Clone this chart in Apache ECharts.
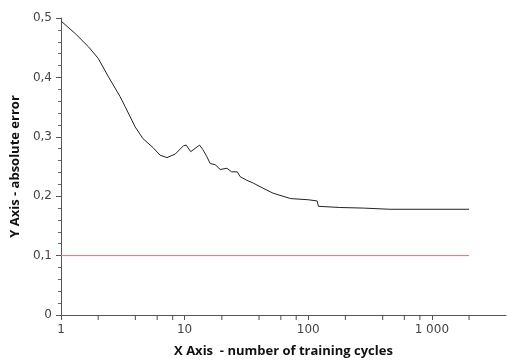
<!DOCTYPE html>
<html>
<head>
<meta charset="utf-8">
<script src="https://cdn.jsdelivr.net/npm/echarts@6/dist/echarts.min.js"></script>
<style>
  html, body { margin: 0; padding: 0; background: #fff; }
  #chart { width: 507px; height: 360px; }
</style>
</head>
<body>
<div id="chart"></div>
<script>
// Training curve: absolute error versus number of training cycles (log x axis)
var cycles = [1, 1.3, 1.66, 2.0, 2.42, 3.0, 3.3, 3.97, 4.6, 5.6, 6.33, 7.2, 8.4, 9.8, 10.3,
  11.2, 13.2, 14.0, 15.1, 16.1, 17.7, 19.4, 22, 24, 26.7, 28.1, 31.7, 36, 40.8, 52, 72,
  100, 118, 121, 180, 280, 460, 2000];
var absError = [0.495, 0.474, 0.452, 0.432, 0.401, 0.368, 0.351, 0.317, 0.297, 0.281, 0.269,
  0.265, 0.271, 0.285, 0.286, 0.275, 0.286, 0.279, 0.267, 0.255, 0.253, 0.245, 0.247, 0.241,
  0.241, 0.233, 0.227, 0.222, 0.216, 0.205, 0.196, 0.194, 0.192, 0.183, 0.181, 0.180, 0.178,
  0.178];

// Target error level
var targetCycles = [1, 2000];
var targetError = [0.1, 0.1];

// Minor tick positions on the logarithmic x axis
var minorTickCycles = [2, 4, 6, 8, 20, 40, 60, 80, 200, 400, 600, 800, 2000];

var xMin = 1, xMax = 3981;
var yTicks = [0, 0.1, 0.2, 0.3, 0.4, 0.5];

function zip(xs, ys) {
  return xs.map(function (x, i) { return [x, ys[i]]; });
}

function fmtThousands(v) {
  return String(Math.round(v)).replace(/\B(?=(\d{3})+(?!\d))/g, ' ');
}

var chart = echarts.init(document.getElementById('chart'), null, { renderer: 'canvas' });

var labelFont = { fontFamily: 'DejaVu Sans', fontSize: 12, color: '#444' };
var nameFont = { fontFamily: 'Open Sans', fontSize: 13, fontWeight: 'bold', color: '#111' };

chart.setOption({
  animation: false,
  backgroundColor: '#fff',
  grid: { left: 61, right: 1, top: 18, bottom: 45, containLabel: false, outerBoundsMode: 'none' },
  xAxis: {
    type: 'log',
    logBase: 10,
    min: xMin,
    max: xMax,
    name: 'X Axis  - number of training cycles',
    nameLocation: 'middle',
    nameGap: 30,
    nameTextStyle: nameFont,
    axisLine: { show: true, lineStyle: { color: '#555', width: 1 } },
    axisTick: { show: true, interval: 0, inside: false, length: 5, lineStyle: { color: '#555', width: 1 } },
    minorTick: { show: false },
    splitLine: { show: false },
    axisLabel: Object.assign({
      margin: 9,
      showMaxLabel: false,
      formatter: function (v) { return fmtThousands(v); }
    }, labelFont)
  },
  yAxis: {
    type: 'value',
    min: yTicks[0],
    max: yTicks[yTicks.length - 1],
    interval: 0.1,
    name: 'Y Axis - absolute error',
    nameLocation: 'middle',
    nameGap: 30,
    nameTextStyle: nameFont,
    axisLine: { show: true, lineStyle: { color: '#555', width: 1 } },
    axisTick: { show: true, inside: false, length: 5, lineStyle: { color: '#555' } },
    minorTick: { show: true, splitNumber: 5, length: 3, lineStyle: { color: '#666' } },
    splitLine: { show: false },
    axisLabel: Object.assign({
      margin: 9,
      formatter: function (v) { return v === 0 ? '0' : v.toFixed(1).replace('.', ','); }
    }, labelFont)
  },
  series: [
    {
      name: 'error',
      type: 'line',
      data: zip(cycles, absError),
      showSymbol: false,
      symbol: 'none',
      lineStyle: { color: '#222', width: 1 },
      z: 3
    },
    {
      name: 'target',
      type: 'line',
      data: zip(targetCycles, targetError),
      showSymbol: false,
      symbol: 'none',
      lineStyle: { color: '#f26b6b', width: 1 },
      z: 2
    },
    {
      name: 'minor ticks',
      type: 'scatter',
      data: minorTickCycles.map(function (c) { return [c, 0]; }),
      symbol: 'rect',
      symbolSize: [1.2, 5],
      symbolOffset: [0, 2.5],
      itemStyle: { color: '#444' },
      silent: true,
      clip: false,
      z: 5
    }
  ]
});
</script>
</body>
</html>
